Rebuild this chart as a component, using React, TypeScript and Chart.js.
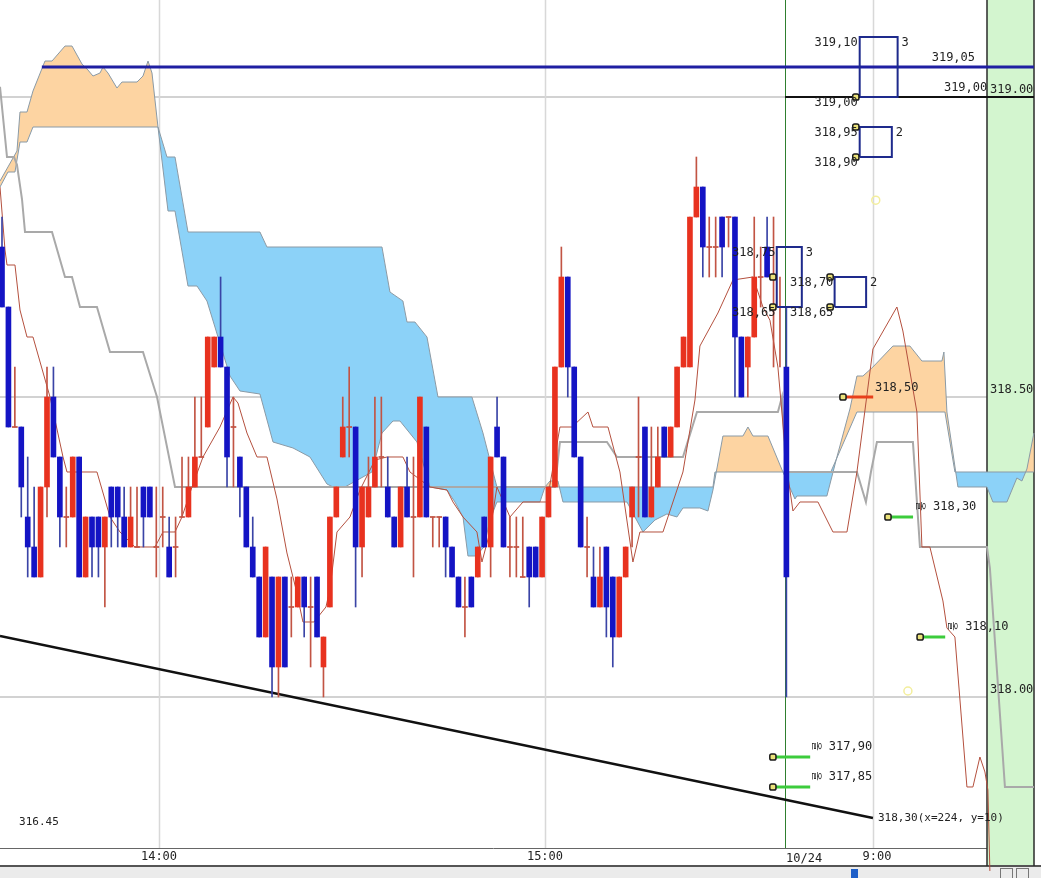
import React, { useEffect, useRef } from 'react';
import { Chart, registerables } from 'chart.js';

Chart.register(...registerables);

// x = 1-minute bar number, y = price
const X_MIN = -0.31;
const X_MAX = 161.6;
const Y_MIN = 317.6983;
const Y_MAX = 319.1617;

const openP = [
  318.75, 318.65, 318.45, 318.45, 318.30, 318.25, 318.20, 318.35, 318.50, 318.40,
  318.30, 318.30, 318.40, 318.20, 318.30, 318.30, 318.25, 318.35, 318.35, 318.30,
  318.25, 318.25, 318.35, 318.35, 318.25, 318.30, 318.25, 318.25, 318.30, 318.30,
  318.35, 318.40, 318.45, 318.55, 318.60, 318.55, 318.45, 318.40, 318.35, 318.25,
  318.20, 318.10, 318.20, 318.05, 318.20, 318.15, 318.15, 318.20, 318.15, 318.20,
  318.05, 318.15, 318.30, 318.40, 318.45, 318.45, 318.25, 318.30, 318.35, 318.40,
  318.35, 318.30, 318.25, 318.35, 318.30, 318.30, 318.45, 318.30, 318.30, 318.30,
  318.25, 318.20, 318.15, 318.20, 318.20, 318.30, 318.25, 318.45, 318.40, 318.25,
  318.25, 318.20, 318.25, 318.25, 318.20, 318.30, 318.35, 318.55, 318.70, 318.55,
  318.40, 318.25, 318.20, 318.15, 318.25, 318.20, 318.10, 318.20, 318.30, 318.40,
  318.45, 318.30, 318.35, 318.45, 318.40, 318.45, 318.55, 318.55, 318.80, 318.85,
  318.75, 318.75, 318.80, 318.80, 318.80, 318.60, 318.55, 318.60, 318.70, 318.75,
  318.70, 318.65, 318.55,
];
const highP = [
  318.80, 318.65, 318.55, 318.45, 318.40, 318.35, 318.35, 318.55, 318.55, 318.40,
  318.35, 318.40, 318.40, 318.30, 318.30, 318.30, 318.30, 318.35, 318.35, 318.35,
  318.35, 318.35, 318.35, 318.35, 318.35, 318.35, 318.30, 318.30, 318.40, 318.40,
  318.50, 318.50, 318.60, 318.60, 318.70, 318.55, 318.50, 318.40, 318.35, 318.30,
  318.20, 318.25, 318.20, 318.20, 318.20, 318.20, 318.20, 318.20, 318.20, 318.20,
  318.10, 318.30, 318.35, 318.50, 318.55, 318.45, 318.35, 318.40, 318.50, 318.50,
  318.40, 318.30, 318.35, 318.40, 318.40, 318.50, 318.45, 318.30, 318.30, 318.30,
  318.25, 318.20, 318.20, 318.20, 318.25, 318.30, 318.40, 318.50, 318.40, 318.30,
  318.30, 318.30, 318.25, 318.25, 318.30, 318.35, 318.55, 318.75, 318.70, 318.55,
  318.40, 318.30, 318.25, 318.25, 318.25, 318.20, 318.20, 318.25, 318.35, 318.50,
  318.45, 318.45, 318.45, 318.45, 318.45, 318.55, 318.60, 318.80, 318.90, 318.85,
  318.80, 318.80, 318.80, 318.80, 318.80, 318.60, 318.60, 318.80, 318.75, 318.80,
  318.80, 318.70, 318.65,
];
const lowP = [
  318.65, 318.45, 318.45, 318.30, 318.20, 318.20, 318.20, 318.30, 318.40, 318.25,
  318.25, 318.30, 318.20, 318.20, 318.20, 318.20, 318.15, 318.25, 318.25, 318.25,
  318.25, 318.25, 318.25, 318.30, 318.20, 318.25, 318.20, 318.20, 318.30, 318.30,
  318.35, 318.40, 318.45, 318.55, 318.55, 318.35, 318.35, 318.30, 318.25, 318.20,
  318.10, 318.10, 318.00, 318.00, 318.05, 318.10, 318.15, 318.10, 318.05, 318.10,
  318.00, 318.15, 318.30, 318.40, 318.40, 318.15, 318.20, 318.30, 318.35, 318.35,
  318.30, 318.25, 318.25, 318.30, 318.20, 318.30, 318.30, 318.25, 318.25, 318.20,
  318.20, 318.15, 318.10, 318.15, 318.20, 318.25, 318.20, 318.40, 318.25, 318.20,
  318.20, 318.20, 318.15, 318.20, 318.20, 318.30, 318.35, 318.55, 318.50, 318.40,
  318.25, 318.20, 318.15, 318.15, 318.10, 318.05, 318.10, 318.20, 318.25, 318.30,
  318.30, 318.30, 318.35, 318.40, 318.40, 318.45, 318.55, 318.55, 318.80, 318.70,
  318.70, 318.70, 318.70, 318.75, 318.50, 318.50, 318.50, 318.60, 318.65, 318.70,
  318.55, 318.55, 318.00,
];
const closeP = [
  318.65, 318.45, 318.45, 318.35, 318.25, 318.20, 318.35, 318.50, 318.40, 318.30,
  318.30, 318.40, 318.20, 318.30, 318.25, 318.25, 318.30, 318.30, 318.30, 318.25,
  318.30, 318.25, 318.30, 318.30, 318.25, 318.30, 318.20, 318.25, 318.30, 318.35,
  318.40, 318.40, 318.60, 318.60, 318.55, 318.40, 318.45, 318.35, 318.25, 318.20,
  318.10, 318.25, 318.05, 318.20, 318.05, 318.15, 318.20, 318.15, 318.15, 318.10,
  318.10, 318.30, 318.35, 318.45, 318.45, 318.25, 318.35, 318.35, 318.40, 318.40,
  318.30, 318.25, 318.35, 318.30, 318.30, 318.50, 318.30, 318.30, 318.30, 318.25,
  318.20, 318.15, 318.15, 318.15, 318.25, 318.25, 318.40, 318.40, 318.25, 318.25,
  318.25, 318.20, 318.20, 318.20, 318.30, 318.35, 318.55, 318.70, 318.55, 318.40,
  318.25, 318.25, 318.15, 318.20, 318.15, 318.10, 318.20, 318.25, 318.35, 318.40,
  318.30, 318.35, 318.40, 318.40, 318.45, 318.55, 318.60, 318.80, 318.85, 318.75,
  318.75, 318.75, 318.75, 318.80, 318.60, 318.50, 318.60, 318.70, 318.70, 318.70,
  318.70, 318.65, 318.20,
];

// Ichimoku lines: [bar, price]
const senkouA: [number, number][] = [
  [-0.31, 318.86], [2.33, 318.91], [2.8, 318.975], [3.89, 318.975], [4.82, 319.01],
  [6.69, 319.06], [7.78, 319.06], [9.8, 319.085], [10.89, 319.085], [12.44, 319.055],
  [13.37, 319.045], [14.15, 319.035], [15.24, 319.04], [15.71, 319.05], [16.49, 319.04],
  [17.88, 319.015], [18.66, 319.025], [21.0, 319.025], [21.93, 319.035], [22.71, 319.06],
  [23.33, 319.04], [24.26, 318.95], [25.82, 318.81], [26.91, 318.81], [28.93, 318.685],
  [30.33, 318.685], [31.88, 318.66], [35.46, 318.535], [37.01, 318.51], [40.12, 318.505],
  [42.15, 318.425], [45.26, 318.415], [47.9, 318.4], [50.54, 318.355], [51.48, 318.35],
  [53.34, 318.35], [57.54, 318.375], [59.1, 318.44], [60.81, 318.46], [61.9, 318.46],
  [64.54, 318.425], [66.56, 318.35], [69.21, 318.345], [70.45, 318.325], [71.7, 318.3],
  [72.47, 318.235], [73.72, 318.235], [74.96, 318.25], [75.89, 318.295], [76.98, 318.325],
  [83.67, 318.325], [84.45, 318.35], [85.23, 318.36], [86.47, 318.36], [87.25, 318.325],
  [97.2, 318.325], [99.69, 318.275], [101.56, 318.295], [103.42, 318.305], [104.98, 318.3],
  [105.91, 318.315], [108.55, 318.315], [109.8, 318.31], [110.58, 318.345], [112.13, 318.435],
  [115.24, 318.435], [116.02, 318.45], [116.8, 318.435], [119.13, 318.435], [121.46, 318.375],
  [123.33, 318.33], [123.64, 318.335], [128.3, 318.335], [129.86, 318.4], [131.88, 318.48],
  [132.97, 318.535], [133.9, 318.535], [135.46, 318.55], [138.57, 318.585], [141.21, 318.585],
  [143.08, 318.56], [146.19, 318.56], [146.5, 318.575], [146.97, 318.475], [148.68, 318.35],
  [153.19, 318.35], [154.12, 318.325], [156.3, 318.325], [157.85, 318.365], [158.63, 318.36],
  [159.41, 318.38], [160.5, 318.44],
];
const senkouB: [number, number][] = [
  [-0.31, 318.85], [0.93, 318.875], [2.02, 318.875], [2.8, 318.925], [3.89, 318.925],
  [4.82, 318.95], [24.26, 318.95], [25.66, 318.9], [26.91, 318.9], [28.93, 318.775],
  [40.12, 318.775], [41.21, 318.75], [59.1, 318.75], [60.34, 318.675], [62.36, 318.66],
  [62.99, 318.625], [64.23, 318.625], [66.1, 318.6], [67.81, 318.5], [73.09, 318.5],
  [74.81, 318.44], [75.89, 318.395], [76.98, 318.35], [110.58, 318.35], [110.89, 318.375],
  [128.9, 318.375], [132.97, 318.475], [146.66, 318.475], [148.21, 318.375], [160.5, 318.375],
];
const kijun: [number, number][] = [
  [-0.31, 319.017], [0.78, 318.9], [1.87, 318.9], [2.33, 318.887], [3.11, 318.83],
  [3.58, 318.775], [7.78, 318.775], [9.8, 318.7], [10.89, 318.7], [12.13, 318.65],
  [14.77, 318.65], [16.8, 318.575], [21.93, 318.575], [24.11, 318.5], [26.91, 318.35],
  [86.0, 318.35], [86.78, 318.425], [94.09, 318.425], [95.65, 318.4], [105.91, 318.4],
  [108.09, 318.475], [120.68, 318.475], [121.31, 318.5], [121.93, 318.375], [132.97, 318.375],
  [134.37, 318.325], [135.15, 318.375], [136.08, 318.425], [141.68, 318.425], [142.77, 318.25],
  [153.19, 318.25], [153.65, 318.215], [155.99, 317.85], [160.5, 317.85],
];
const tenkan: [number, number][] = [
  [-0.31, 318.85], [0.47, 318.745], [0.78, 318.72], [2.02, 318.72], [2.8, 318.645],
  [3.89, 318.6], [4.82, 318.6], [7.47, 318.5], [9.49, 318.4], [10.11, 318.375],
  [14.77, 318.375], [16.8, 318.3], [18.35, 318.275], [20.68, 318.25], [23.79, 318.25],
  [25.04, 318.275], [26.91, 318.275], [27.99, 318.3], [29.55, 318.35], [31.26, 318.4],
  [33.9, 318.45], [35.93, 318.5], [36.7, 318.49], [38.1, 318.44], [39.66, 318.4],
  [41.21, 318.4], [42.77, 318.33], [44.32, 318.24], [45.72, 318.18], [46.81, 318.125],
  [48.52, 318.125], [50.39, 318.15], [51.01, 318.18], [52.1, 318.275], [54.12, 318.3],
  [55.68, 318.345], [58.01, 318.395], [59.88, 318.4], [62.36, 318.4], [63.45, 318.375],
  [66.56, 318.35], [69.21, 318.345], [70.14, 318.325], [71.7, 318.3], [73.87, 318.275],
  [74.65, 318.225], [75.89, 318.275], [76.98, 318.35], [79.01, 318.3], [81.03, 318.325],
  [84.76, 318.325], [86.78, 318.45], [88.65, 318.45], [91.14, 318.475], [91.91, 318.45],
  [94.25, 318.45], [96.11, 318.375], [98.13, 318.225], [99.22, 318.275], [102.8, 318.275],
  [105.91, 318.375], [107.78, 318.495], [108.55, 318.585], [111.35, 318.64], [113.69, 318.695],
  [116.8, 318.7], [118.35, 318.65], [119.44, 318.628], [120.68, 318.55], [122.08, 318.38],
  [123.02, 318.31], [124.11, 318.325], [126.91, 318.325], [129.24, 318.275], [131.42, 318.275],
  [132.97, 318.375], [135.46, 318.58], [139.19, 318.65], [140.12, 318.61], [142.3, 318.475],
  [143.08, 318.25], [144.32, 318.25], [146.35, 318.16], [146.97, 318.115], [148.21, 318.1],
  [150.08, 317.85], [151.01, 317.85], [152.1, 317.9], [152.88, 317.875], [153.34, 317.845],
  [153.65, 317.71],
];

// drawn objects
const trendLine: [number, number][] = [[-0.31, 318.1017], [135.46, 317.7983]];
const resistLine: [number, number][] = [[6.2, 319.05], [160.5, 319.05]];
const closeLine: [number, number][] = [[121.8, 319.0], [160.5, 319.0]];
const redOrder: [number, number][] = [[130.8, 318.5], [135.5, 318.5]];
const greenOrders: [number, number, number][] = [
  [137.8, 141.7, 318.3], [142.8, 146.7, 318.1], [119.9, 125.7, 317.9], [119.9, 125.7, 317.85],
];
const orderBoxes: [number, number, number, number][] = [
  [133.4, 139.3, 319.0, 319.1], [133.4, 138.4, 318.9, 318.95],
  [120.5, 124.4, 318.65, 318.75], [129.5, 134.4, 318.65, 318.7],
];
const boxCounts = ['3', '2', '3', '2'];
const orderDots: [number, number][] = [
  [132.8, 319.0], [132.8, 318.95], [132.8, 318.9], [119.9, 318.7], [119.9, 318.65],
  [128.8, 318.7], [128.8, 318.65], [130.8, 318.5], [137.8, 318.3], [142.8, 318.1],
  [119.9, 317.9], [119.9, 317.85],
];
const ghostDots: [number, number][] = [[135.9, 318.828], [140.9, 318.01]];

const boxLeftLabels: [number, number, string][] = [
  [133.1, 319.1, '319,10'], [133.1, 319.0, '319,00'], [133.1, 318.95, '318,95'], [133.1, 318.9, '318,90'],
  [120.3, 318.75, '318,75'], [120.3, 318.65, '318,65'], [129.3, 318.7, '318,70'], [129.3, 318.65, '318,65'],
];
const lineLabels: [number, number, string][] = [
  [144.6, 319.05, '319,05'], [146.5, 319.0, '319,00'], [135.8, 318.5, '318,50'],
];
const fillLabels: [number, number, string][] = [
  [144.8, 318.3, '318,30'], [149.8, 318.1, '318,10'], [128.6, 317.9, '317,90'], [128.6, 317.85, '317,85'],
];
const trendLabel = '318,30(x=224, y=10)';
const lowLabel: [number, number, string] = [2.5, 317.792, '316.45'];

const priceTicks = [318.0, 318.5, 319.0];
const timeTickPos = [24.42, 84.45, 121.8, 135.46];
const timeTickLabels = ['14:00', '15:00', '10/24', '9:00'];

const RED = '#e8321f';
const BLUE = '#1414c4';
const RED_WICK = '#c25444';
const BLUE_WICK = '#3a44a6';
const ORANGE = 'rgba(253,212,162,1)';
const SKY = 'rgba(140,210,248,1)';

const toXY = (arr: [number, number][]) => arr.map(([x, y]) => ({ x, y }));

// layout frame (pixels)
const PLOT_RIGHT = 987;
const BAND_RIGHT = 1034;
const AXIS_TOP = 848;
const AXIS_BOTTOM = 866;

const decor = {
  id: 'decor',
  beforeDatasetsDraw(chart: any) {
    const { ctx, width, height } = chart;
    const xs = chart.scales.x;
    const ys = chart.scales.y;
    ctx.save();
    ctx.fillStyle = '#d3f5cf';
    ctx.fillRect(PLOT_RIGHT, 0, BAND_RIGHT - PLOT_RIGHT, AXIS_BOTTOM);
    ctx.strokeStyle = '#d2d2d2';
    ctx.lineWidth = 2;
    priceTicks.forEach((p) => {
      const y = Math.round(ys.getPixelForValue(p));
      ctx.beginPath();
      ctx.moveTo(0, y);
      ctx.lineTo(PLOT_RIGHT, y);
      ctx.stroke();
    });
    timeTickPos.forEach((t, i) => {
      const x = Math.round(xs.getPixelForValue(t)) + 0.5;
      const isDate = timeTickLabels[i].includes('/');
      ctx.strokeStyle = isDate ? '#2f7f2f' : '#d8d8d8';
      ctx.lineWidth = isDate ? 1 : 1.5;
      ctx.beginPath();
      ctx.moveTo(x, 0);
      ctx.lineTo(x, AXIS_TOP);
      ctx.stroke();
    });
    ctx.fillStyle = '#ebebeb';
    ctx.fillRect(0, AXIS_BOTTOM, width, height - AXIS_BOTTOM);
    ctx.strokeStyle = '#666';
    ctx.lineWidth = 1;
    ctx.beginPath();
    ctx.moveTo(0, AXIS_TOP + 0.5);
    ctx.lineTo(PLOT_RIGHT, AXIS_TOP + 0.5);
    ctx.stroke();
    ctx.strokeStyle = '#555';
    ctx.lineWidth = 2;
    ctx.beginPath();
    ctx.moveTo(0, AXIS_BOTTOM);
    ctx.lineTo(width, AXIS_BOTTOM);
    ctx.stroke();
    ctx.strokeStyle = '#2a2a2a';
    ctx.lineWidth = 1.5;
    [PLOT_RIGHT, BAND_RIGHT].forEach((x) => {
      ctx.beginPath();
      ctx.moveTo(x, 0);
      ctx.lineTo(x, AXIS_BOTTOM);
      ctx.stroke();
    });
    ctx.fillStyle = '#1f5fc8';
    ctx.fillRect(851, 869, 7, 9);
    ctx.strokeStyle = '#777';
    ctx.lineWidth = 1;
    ctx.strokeRect(1000.5, 868.5, 12, 10);
    ctx.strokeRect(1016.5, 868.5, 12, 10);
    ctx.restore();
  },
  afterDatasetsDraw(chart: any) {
    const { ctx } = chart;
    const xs = chart.scales.x;
    const ys = chart.scales.y;
    const px = (v: number) => xs.getPixelForValue(v);
    const py = (v: number) => ys.getPixelForValue(v);
    ctx.save();
    ctx.fillStyle = '#222';
    ctx.textBaseline = 'middle';
    ctx.font = '12px "DejaVu Sans Mono", monospace';
    ctx.textAlign = 'right';
    boxLeftLabels.forEach(([k, p, s]) => ctx.fillText(s, px(k), py(p) + 6));
    ctx.textAlign = 'left';
    orderBoxes.forEach(([, k1, , p1], i) => ctx.fillText(boxCounts[i], px(k1) + 4, py(p1) + 6));
    lineLabels.forEach(([k, p, s]) => ctx.fillText(s, px(k), py(p) - 9));
    fillLabels.forEach(([k, p, s]) => {
      ctx.fillText(s, px(k), py(p) - 10);
      ctx.save();
      ctx.font = '10px "Noto Sans CJK KR", sans-serif';
      ctx.translate(px(k) - 12, py(p) - 11);
      ctx.rotate(Math.PI / 2);
      ctx.textAlign = 'center';
      ctx.fillText('올', 0, 0);
      ctx.restore();
    });
    ctx.font = '11px "DejaVu Sans Mono", monospace';
    const tEnd = trendLine[trendLine.length - 1];
    ctx.fillText(trendLabel, px(tEnd[0]) + 5, py(tEnd[1]));
    ctx.fillText(lowLabel[2], px(lowLabel[0]) + 1, py(lowLabel[1]));
    ctx.font = '12px "DejaVu Sans Mono", monospace';
    priceTicks.forEach((p) => ctx.fillText(p.toFixed(2), PLOT_RIGHT + 3, py(p) - 7));
    timeTickPos.forEach((t, i) => {
      const lab = timeTickLabels[i];
      if (lab.includes('/')) {
        ctx.textAlign = 'left';
        ctx.fillText(lab, px(t) + 1, AXIS_TOP + 11);
      } else {
        ctx.textAlign = 'center';
        ctx.fillText(lab, px(t) + (lab.length < 5 ? 4 : 0), AXIS_TOP + 9);
      }
    });
    ctx.restore();
  },
};

export default function App() {
  const ref = useRef<HTMLCanvasElement>(null);
  useEffect(() => {
    document.body.style.margin = '0';
    const idx = openP.map((_, i) => i);
    const bodyColor = idx.map((i) => (closeP[i] > openP[i] ? RED : closeP[i] < openP[i] ? BLUE : RED_WICK));
    const wickColor = idx.map((i) => (closeP[i] < openP[i] ? BLUE_WICK : RED_WICK));
    const bodies = idx.map((i) => {
      const lo = Math.min(openP[i], closeP[i]);
      const hi = Math.max(openP[i], closeP[i]);
      return { x: i, y: lo === hi ? [lo - 0.0009, hi + 0.0009] : [lo, hi] };
    });
    const wicks = idx.map((i) => ({ x: i, y: [lowP[i], highP[i]] }));
    const lineDs = (data: any[], color: string, width: number, order: number, extra: any = {}) => ({
      type: 'line',
      data,
      borderColor: color,
      borderWidth: width,
      pointRadius: 0,
      tension: 0,
      fill: false,
      order,
      ...extra,
    });
    const datasets: any[] = [
      lineDs(toXY(senkouA), '#8a9aa6', 1, 20, { fill: { target: 1, above: ORANGE, below: SKY } }),
      lineDs(toXY(senkouB), '#8a9aa6', 1, 19),
      lineDs(toXY(kijun), '#a9a9a9', 2, 15),
      lineDs(toXY(tenkan), '#b4503e', 1, 14),
      lineDs(toXY(trendLine), '#111111', 2.5, 13),
      lineDs(toXY(resistLine), '#1f1fa2', 3, 13),
      lineDs(toXY(closeLine), '#111111', 2, 13),
      { type: 'bar', data: wicks, backgroundColor: wickColor, barThickness: 1, grouped: false, order: 8 },
      { type: 'bar', data: bodies, backgroundColor: bodyColor, barThickness: 5, grouped: false, order: 7 },
      lineDs(toXY(redOrder), '#e8401c', 3, 4),
      ...greenOrders.map(([a, b, p]) => lineDs([{ x: a, y: p }, { x: b, y: p }], '#3ccc3c', 3, 4)),
      ...orderBoxes.map(([a, b, lo, hi]) =>
        lineDs([{ x: a, y: lo }, { x: b, y: lo }, { x: b, y: hi }, { x: a, y: hi }, { x: a, y: lo }], '#1e2a8c', 2, 3)),
      {
        type: 'scatter', data: toXY(orderDots), pointStyle: 'rectRounded', pointRadius: 3.6,
        backgroundColor: '#ebe27a', borderColor: '#1a1a1a', borderWidth: 1.5, order: 1,
      },
      {
        type: 'scatter', data: toXY(ghostDots), pointStyle: 'circle', pointRadius: 4,
        backgroundColor: 'rgba(0,0,0,0)', borderColor: '#f3ee9c', borderWidth: 1.5, order: 1,
      },
    ];
    const chart = new Chart(ref.current as HTMLCanvasElement, {
      type: 'bar',
      data: { datasets },
      options: {
        responsive: false,
        maintainAspectRatio: false,
        animation: false,
        devicePixelRatio: 1,
        events: [],
        layout: { padding: 0, autoPadding: false },
        plugins: { legend: { display: false }, tooltip: { enabled: false } },
        scales: {
          x: { type: 'linear', min: X_MIN, max: X_MAX, display: false, offset: false, grid: { offset: false } },
          y: { type: 'linear', min: Y_MIN, max: Y_MAX, display: false },
        },
      } as any,
      plugins: [decor],
    } as any);
    return () => chart.destroy();
  }, []);
  return (
    <div style={{ position: 'fixed', left: 0, top: 0, width: 1041, height: 878, background: '#fff' }}>
      <canvas ref={ref} width={1041} height={878} style={{ display: 'block', width: 1041, height: 878 }} />
    </div>
  );
}
